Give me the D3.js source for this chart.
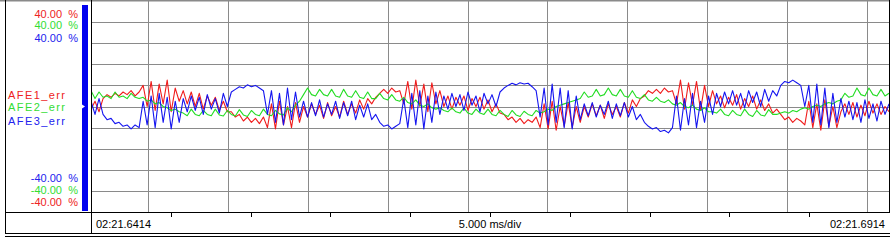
<!DOCTYPE html>
<html>
<head>
<meta charset="utf-8">
<script src="https://cdn.jsdelivr.net/npm/d3@7"></script>
<style>
  body { margin: 0; background: #fff; }
  text { font-family: "Liberation Sans", Arial, sans-serif; font-size: 11px; }
</style>
</head>
<body>
<svg id="chart"></svg>
<script>
// channel names and range labels
const seriesNames = ["AFE1_err", "AFE2_err", "AFE3_err"];
const rangeMax = ["40.00", "40.00", "40.00"];
const rangeMin = ["-40.00", "-40.00", "-40.00"];
const rangeUnit = "%";

// time base (ms inside the second 02:21)
const timeStart = 641.4;
const timeEnd = 691.4;
const timeLabels = ["02:21.6414", "02:21.6914"];
const divLabel = "5.000 ms/div";

// samples in %
const afe1 = [
  -1, 2, -2,
  3, 4.5, 3.5, 5, 4, 5.5, 4.5, 6, 4, 5.5,
  8, 0, 9.5, -1.5, 8.5, 1, 10, -2, 7, 2,
  6, 1, 5.5, 0, 5, -1, 4, 0.5, 3.5, -1.5, 2, -2,
  -2, -4, -3, -5.5, -4, -6, -4.5, -6.5, -4,
  -8, 1, -8.5, 2, -7, 0, -8, 1.5, -6,
  0, -4, 1, -3, 0.5, -4.5, 1.5, -3.5, 0, -4, 2, -3, 1, -2.5, 2.5, -1, 3, 1, 3.5,
  5, 6.5, 5, 7, 5.5, 6,
  1, 9.5, -1, 10, 0, 8.5, -2, 9, 1, 6,
  0, 4, -1, 3.5, 0.5, 4, -1.5, 3, 0, 3.5, -1, 2.5, -2, 1, -2.5,
  -3, -5, -4, -6, -4.5, -6.5, -5, -6, -4,
  -8, 1, -8.5, 2, -9, 0, -7.5, 1.5, -8, 0, -6,
  0, -4, 1, -3.5, 0.5, -4.5, 1, -3, 0, -4, 1.5, -2.5, 2.5, 0, 3,
  4, 6, 5, 6.5, 5, 7, 5.5, 6,
  1, 10, -1, 9, 0.5, 9.5, -1.5, 8, 0, 6,
  1, 4, -0.5, 3.5, 0.5, 4.5, -1, 3, 0, 4, -1, 2.5, -1.5, 1, -2.5, -1,
  -3, -5, -4, -6, -4.5, -5.5,
  -7, 2, -8, 1, -9, 2.5, -7.5, 0, -8, -2,
  1, -3, 1.5, -4, 0.5, -3.5, 2, -2.5, 1, -3, 0, -2
];
const afe2 = [
  6, 3, 5.5, 3.5, 4, 3, 5.5, 3.5, 4, 3, 5, 3.5, 3,
  3.5, 2, 2.5, 1, 1.5, 0, -0.5, -1.5, -1, -2,
  -2.5, -3.5, -1, -3, -3.5, -1.5, -3, -3.5, -1, -3.2, -3.6, -1.5, -3, -3.6, -1.2,
  -3.2, -3.8, -1.5, -3, -3.5, -1, -3, -3.5, -1.5, -2.8, -3.2, -0.5, -2, 0.5, 2,
  4.5, 7, 4.5, 4, 6.5, 4.5, 4, 6.5, 4, 3.5, 6.5, 4, 3.5, 6, 3.5, 3, 5.5, 3, 3,
  5, 3, 2.5, 4.5, 2.5, 2, 3.5, 1.5, 1, 2.5, 0.5, 0, 1, -0.5, -1, -0.5,
  -1.5, -2, -0.5, -2, -2.5, -0.5, -2.5, -3, -1, -2.5, -3, -1,
  -3, -3.5, -1.5, -3, -3.8, -1.5, -3.2, -3.8, -1.8, -3, -3.5, -1.5,
  -2.5, -2, -1, -1.5, 0, 0.5, 1, 1.5, 2, 2.5, 3,
  5.5, 3.5, 4, 6.5, 4, 4.5, 7, 4.5, 4, 6.5, 4, 3.5, 6, 3.5, 3,
  4.5, 2.5, 2, 3.5, 2, 1.5, 2.5, 1, 0.5, 1.5, 0, -0.5, 0.5, -1, -1.5, -0.5, -2, -2,
  -2.5, -1, -3, -3.5, -1.5, -3, -3.5, -1, -3, -3.8, -1.5, -3.2, -3.6, -1.2, -3, -3,
  -2.5, -2, -2.5, -1.5, -2, -1, -0.5, -1, 0, 0.5, 0, 1, 1.5, 1, 2, 2.5,
  5, 3.5, 4, 7, 4.5, 4, 7, 4.5, 4, 6.5, 4, 5
];
const afe3 = [
  2, -3, 3,
  -3, -5, -4.5, -6.5, -6, -7.5, -7, -8.5, -7, -8,
  2, -7, 4, -8, 5, -6, 3.5, -8.5, 2, -6,
  3, -2, 4, -1.5, 3.5, -3, 4.5, -1, 3, -2.5, 5, 0,
  5.5, 6.5, 7.5, 7, 8.2, 7.5, 8, 7, 6,
  -3, 6, -6, 5, -7, 7, -5, 5.5, -4,
  2, -4, 1.5, -3.5, 2.5, -4, 1, -3, 2, -4.5, 1.5, -3.5, 2, -5, 0.5, -4, 1, -5, -3,
  -6, -7.5, -7, -8.5, -7.5, -6.5,
  3, -8, 5, -7, 6, -8.5, 4, -6, 5.5, -3,
  4, -1, 5, 0, 4.5, -1.5, 5.5, 0.5, 4, -2, 5, 1, 4.5, 0, 5.5,
  7, 8, 8.8, 8.2, 9, 8.5, 8.8, 7.5, 6,
  -4, 7, -7, 8.5, -6, 7, -8, 6, -8.5, 4, -5,
  1, -3.5, 1.5, -4, 0.5, -3, 2, -4.5, 1, -3.5, 1.5, -4, 0, -5, -3,
  -6, -7.5, -8.5, -8, -9.5, -9, -10, -8,
  4, -9, 3, -7, 5, -8, 2, -6, 4, -3,
  5, 0, 5.5, 1, 6, 0.5, 5, -0.5, 6, 1.5, 5.5, 0, 6.5, 2, 6, 4,
  8, 9.5, 9, 10, 9, 8,
  0, 8, -6, 8.5, -7, 7, -8, 5, -6, 3,
  -4, 2, -5, 1.5, -6, 2.5, -4.5, 1, -5.5, 2, -3, 1
];

const colors = ["#f01c1c", "#22dd22", "#1515f0"];
const textColors = ["#ee2222", "#33dd33", "#2222ee"];

const W = 894, H = 240;
const plot = { left: 91, right: 889, top: 1, bottom: 212 };

const svg = d3.select("#chart").attr("width", W).attr("height", H);
svg.append("rect").attr("width", W).attr("height", H).attr("fill", "#fff");

const x = d3.scaleLinear().domain([timeStart, timeEnd]).range([plot.left, plot.right]);
const y = d3.scaleLinear().domain([-40, 40]).range([plot.bottom, plot.top]);

const px = (v) => Math.round(v) + 0.5;

// grid: vertical lines on round 5 ms, horizontal every division
const grid = svg.append("g").attr("stroke", "#8a8a8a").attr("stroke-width", 1)
  .attr("shape-rendering", "crispEdges");
grid.selectAll(".vg")
  .data(d3.range(645, timeEnd, 5))
  .join("line")
  .attr("x1", (d) => px(x(d))).attr("x2", (d) => px(x(d)))
  .attr("y1", plot.top).attr("y2", plot.bottom);
grid.selectAll(".hg")
  .data(d3.range(-32, 40, 8))
  .join("line")
  .attr("x1", plot.left).attr("x2", plot.right)
  .attr("y1", (d) => px(y(d))).attr("y2", (d) => px(y(d)));
// top edge
svg.append("line").attr("x1", 0).attr("x2", plot.right).attr("y1", 0.5).attr("y2", 0.5)
  .attr("stroke", "#8a8a8a").attr("stroke-width", 2);

// traces
svg.append("clipPath").attr("id", "clip").append("rect")
  .attr("x", plot.left + 1).attr("y", plot.top)
  .attr("width", plot.right - plot.left - 1).attr("height", plot.bottom - plot.top);

const step = (timeEnd - timeStart) / (afe1.length - 1);
const line = d3.line()
  .x((d, i) => x(timeStart + i * step))
  .y((d) => y(d));

const traces = svg.append("g").attr("clip-path", "url(#clip)");
[afe1, afe2, afe3].forEach((s, k) => {
  traces.append("path")
    .attr("d", line(s))
    .attr("fill", "none")
    .attr("stroke", colors[k])
    .attr("stroke-width", 1.1)
    .attr("stroke-linejoin", "round");
});

// frame
const frame = svg.append("g").attr("stroke", "#000").attr("stroke-width", 1)
  .attr("shape-rendering", "crispEdges");
frame.append("line").attr("x1", 5.5).attr("x2", 5.5).attr("y1", 0).attr("y2", 234);
frame.append("line").attr("x1", plot.left + 0.5).attr("x2", plot.left + 0.5).attr("y1", 0).attr("y2", 234);
frame.append("line").attr("x1", plot.right + 0.5).attr("x2", plot.right + 0.5).attr("y1", 0).attr("y2", plot.bottom);
frame.append("line").attr("x1", 5).attr("x2", plot.right + 1).attr("y1", plot.bottom + 0.5).attr("y2", plot.bottom + 0.5);
frame.append("line").attr("x1", 5).attr("x2", plot.right + 1).attr("y1", 233.5).attr("y2", 233.5);
frame.append("line").attr("x1", 5).attr("x2", plot.right + 1).attr("y1", 236.5).attr("y2", 236.5);

// time axis ticks
const axis = svg.append("g")
  .attr("transform", `translate(0, ${plot.bottom})`)
  .call(d3.axisBottom(x)
    .tickValues(d3.range(timeStart + 5, timeEnd - 1, 5))
    .tickSize(5)
    .tickFormat(""));
axis.select(".domain").remove();
axis.selectAll("line").attr("shape-rendering", "crispEdges");

svg.append("text").attr("x", 96).attr("y", 228).text(timeLabels[0]);
svg.append("text").attr("x", x((timeStart + timeEnd) / 2)).attr("y", 228)
  .attr("text-anchor", "middle").text(divLabel);
svg.append("text").attr("x", 885).attr("y", 228)
  .attr("text-anchor", "end").text(timeLabels[1]);

// channel bar
svg.append("rect").attr("x", 82).attr("y", 5).attr("width", 6).attr("height", 206)
  .attr("fill", "#0000ee");
svg.append("path").attr("d", `M82,${y(0) - 2} L85,${y(0)} L82,${y(0) + 2} Z`).attr("fill", "#fff");

// range labels
const topRows = [17.5, 29, 41.5];
const botRows = [181.5, 193.5, 206];
rangeMax.forEach((v, k) => {
  svg.append("text").attr("x", 62).attr("y", topRows[k]).attr("text-anchor", "end")
    .attr("fill", textColors[k]).text(v);
  svg.append("text").attr("x", 78).attr("y", topRows[k]).attr("text-anchor", "end")
    .attr("fill", textColors[k]).text(rangeUnit);
});
// bottom stack is in reverse order: blue, green, red
rangeMin.forEach((v, k) => {
  const c = textColors[2 - k];
  svg.append("text").attr("x", 62).attr("y", botRows[k]).attr("text-anchor", "end")
    .attr("fill", c).text(v);
  svg.append("text").attr("x", 78).attr("y", botRows[k]).attr("text-anchor", "end")
    .attr("fill", c).text(rangeUnit);
});

// channel names
const nameRows = [99, 111, 124.5];
seriesNames.forEach((n, k) => {
  svg.append("text").attr("x", 8).attr("y", nameRows[k])
    .attr("fill", textColors[k])
    .attr("textLength", 57).attr("lengthAdjust", "spacing")
    .text(n);
});
</script>
</body>
</html>
